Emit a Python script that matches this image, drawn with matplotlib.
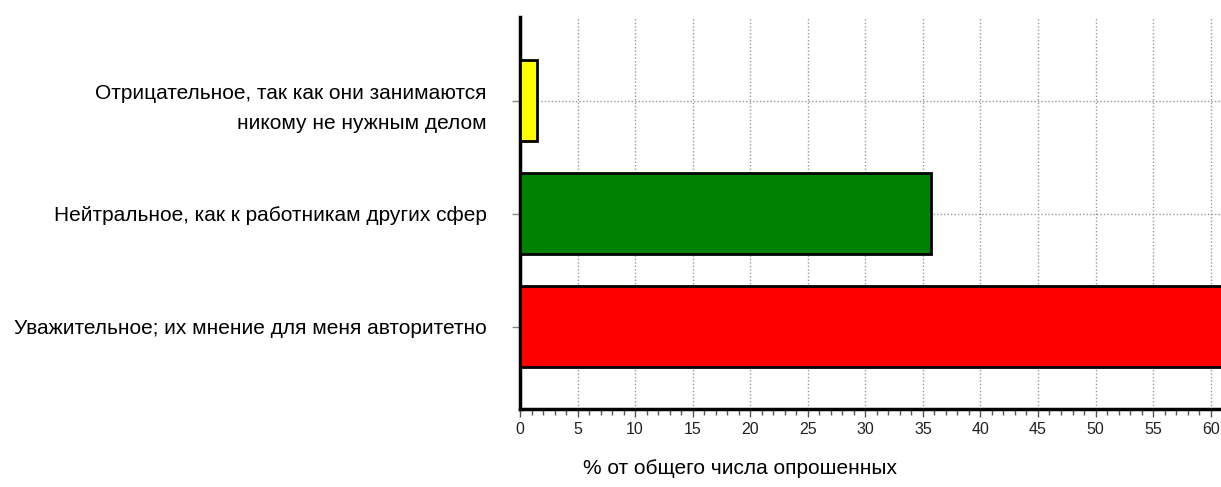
import matplotlib
matplotlib.use("Agg")
import matplotlib.pyplot as plt
from matplotlib.ticker import MultipleLocator

categories = [
    "Уважительное; их мнение для меня авторитетно",
    "Нейтральное, как к работникам других сфер",
    "Отрицательное, так как они занимаются\nникому не нужным делом",
]
values = [62.8, 35.7, 1.5]
colors = ["#ff0000", "#008000", "#ffff00"]
x_ticks = list(range(0, 61, 5))
xlabel = "% от общего числа опрошенных"

fig = plt.figure(figsize=(12.21, 4.87), dpi=100)
ax = fig.add_axes([520/1221, 78/487, 1 - 520/1221, (409-17)/487])

pos = list(range(len(categories)))
ax.barh(pos, values, height=0.72, color=colors, edgecolor="black", linewidth=2, zorder=3)

ax.set_xlim(0, 60.9)
ax.set_ylim(-0.73, 2.74)
ax.set_xticks(x_ticks)
ax.set_xticklabels([str(t) for t in x_ticks], family=["Liberation Sans Narrow", "Liberation Sans"], fontsize=11.5, color="#222222")
ax.xaxis.set_minor_locator(MultipleLocator(1))
ax.tick_params(axis="x", which="major", length=6, width=1, color="#555555", pad=3)
ax.tick_params(axis="x", which="minor", length=4, width=1, color="#555555")
ax.set_yticks(pos)
ax.set_yticklabels(categories, family="Liberation Sans", fontsize=15, ha="right",
                   multialignment="right", linespacing=1.75)
ax.tick_params(axis="y", length=6, width=1, color="#888888", pad=18)

ax.grid(axis="x", which="major", linestyle=(0, (1, 1.5)), color="#999999", linewidth=1, zorder=0)
ax.grid(axis="y", which="major", linestyle=(0, (1, 1.5)), color="#999999", linewidth=1, zorder=0)
ax.set_axisbelow(True)

for s in ["top", "right"]:
    ax.spines[s].set_visible(False)
ax.spines["left"].set_linewidth(2.5)
ax.spines["bottom"].set_linewidth(2.5)

fig.text(740/1221, 1 - 468/487, xlabel, ha="center", va="center", fontsize=15, family="Liberation Sans")

fig.savefig("out.png", dpi=100)
